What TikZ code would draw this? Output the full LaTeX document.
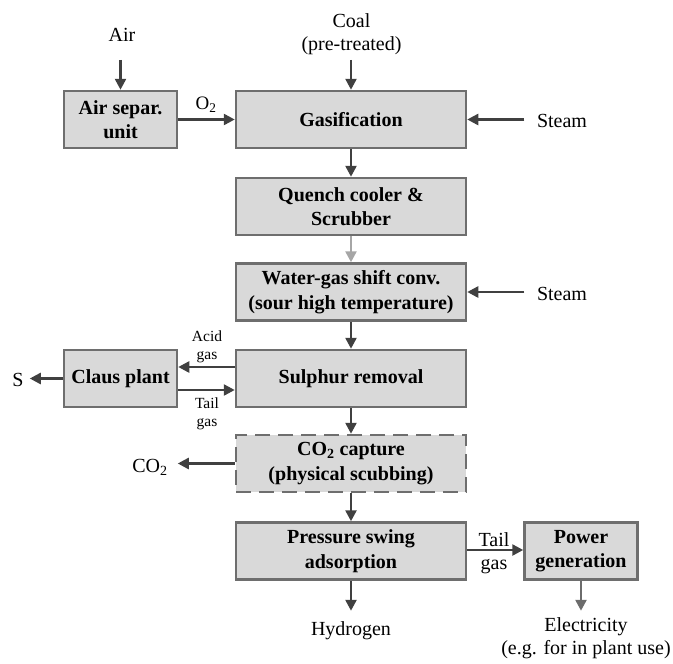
\documentclass[tikz,border=0pt]{standalone}
\usepackage{fontspec}
\setmainfont{LiberationSerif}[Extension=.ttf,UprightFont=*-Regular,BoldFont=*-Bold,ItalicFont=*-Italic,BoldItalicFont=*-BoldItalic]
\usetikzlibrary{arrows.meta}
\definecolor{boxfill}{HTML}{D9D9D9}
\definecolor{boxline}{HTML}{6E6E6E}
\definecolor{arr}{HTML}{404040}
\tikzset{
  x=1pt,y=-1pt,
  proc/.style={draw=boxline,fill=boxfill,line width=2.5pt,inner sep=0pt,align=center,
    font=\fontsize{20}{24.5}\selectfont\bfseries},
  wide/.style={proc,minimum width=230pt,minimum height=57pt},
  narrow/.style={proc,minimum width=113pt,minimum height=57pt},
  lab/.style={inner sep=0pt,align=center,font=\fontsize{20}{23}\selectfont},
  smalllab/.style={inner sep=0pt,align=center,font=\fontsize{15.5}{17.5}\selectfont},
  flow/.style={draw=arr,line width=2.5pt,-{Triangle[length=11pt,width=11pt]}},
  greyflow/.style={flow,draw=gray!70,-{Triangle[length=11pt,width=11pt,fill=gray!70]}},
}
\begin{document}
\begin{tikzpicture}
\useasboundingbox (0,0) rectangle (673,664);
% boxes
\node[narrow] (asu) at (120.5,119.5) {Air separ.\\unit};
\node[wide] (gas) at (351,119.5) {Gasification};
\node[wide] (quench) at (351,206.5) {Quench cooler \&\\Scrubber};
\node[wide] (wgs) at (351,292) {Water-gas shift conv.\\(sour high temperature)};
\node[wide] (sulph) at (351,378.5) {Sulphur removal};
\node[narrow] (claus) at (120.5,378.5) {Claus plant};
\node[wide,dashed,dash pattern=on 15pt off 8pt] (co2) at (351,463.5) {CO\textsubscript{2} capture\\(physical scubbing)};
\node[wide] (psa) at (351,551) {Pressure swing\\adsorption};
\node[narrow] (power) at (581,551) {Power\\generation};
% labels
\node[lab] (air) at (122,35) {Air};
\node[lab] (coal) at (351.5,34) {Coal\\(pre-treated)};
\node[lab] (steam1) at (562,121) {Steam};
\node[lab] (steam2) at (562,294) {Steam};
\node[lab] (s) at (18,380) {S};
\node[lab] (co2out) at (150,467) {CO\textsubscript{2}};
\node[lab] (h2) at (351,631) {Hydrogen};
\node[lab] (elec) at (586,638) {Electricity\\(e.g. for in plant use)};
\node[smalllab,font=\fontsize{19}{20}\selectfont] (o2) at (206,105) {O\textsubscript{2}};
\node[smalllab] (acid) at (207,347) {Acid\\gas};
\node[smalllab] (tail1) at (207,414) {Tail\\gas};
\node[lab] (tail2) at (494,553) {Tail\\gas};
% free ends
\coordinate (airend) at ([yshift=30pt]asu.north);
\coordinate (coalend) at ([yshift=30pt]gas.north);
\coordinate (st1end) at ([xshift=57pt]gas.east);
\coordinate (st2end) at ([xshift=57pt]wgs.east);
\coordinate (send) at ([xshift=-33pt]claus.west);
\coordinate (co2end) at ([xshift=-57pt]co2.west);
\coordinate (h2end) at ([yshift=-30pt]psa.south);
\coordinate (elecend) at ([yshift=-30pt]power.south);
\coordinate (acidy) at (0,367);
\coordinate (taily) at (0,390);
\coordinate (tail2y) at (0,550);
% connectors
\draw[flow] (airend) -- (asu.north);
\draw[flow] (coalend) -- (gas.north);
\draw[flow] (asu.east) -- (gas.west);
\draw[flow] (st1end) -- (gas.east);
\draw[flow] (gas.south) -- (quench.north);
\draw[greyflow] (quench.south) -- (wgs.north);
\draw[flow] (st2end) -- (wgs.east);
\draw[flow] (wgs.south) -- (sulph.north);
\draw[flow] (sulph.west |- acidy) -- (claus.east |- acidy);
\draw[flow] (claus.east |- taily) -- (sulph.west |- taily);
\draw[flow] (claus.west) -- (send);
\draw[flow] (sulph.south) -- (co2.north);
\draw[flow] (co2.west) -- (co2end);
\draw[flow] (co2.south) -- (psa.north);
\draw[flow] (psa.east |- tail2y) -- (power.west |- tail2y);
\draw[flow] (psa.south) -- (h2end);
\draw[flow,draw=gray!85!black,-{Triangle[length=11pt,width=11pt,fill=gray!85!black]}] (power.south) -- (elecend);
\end{tikzpicture}
\end{document}
